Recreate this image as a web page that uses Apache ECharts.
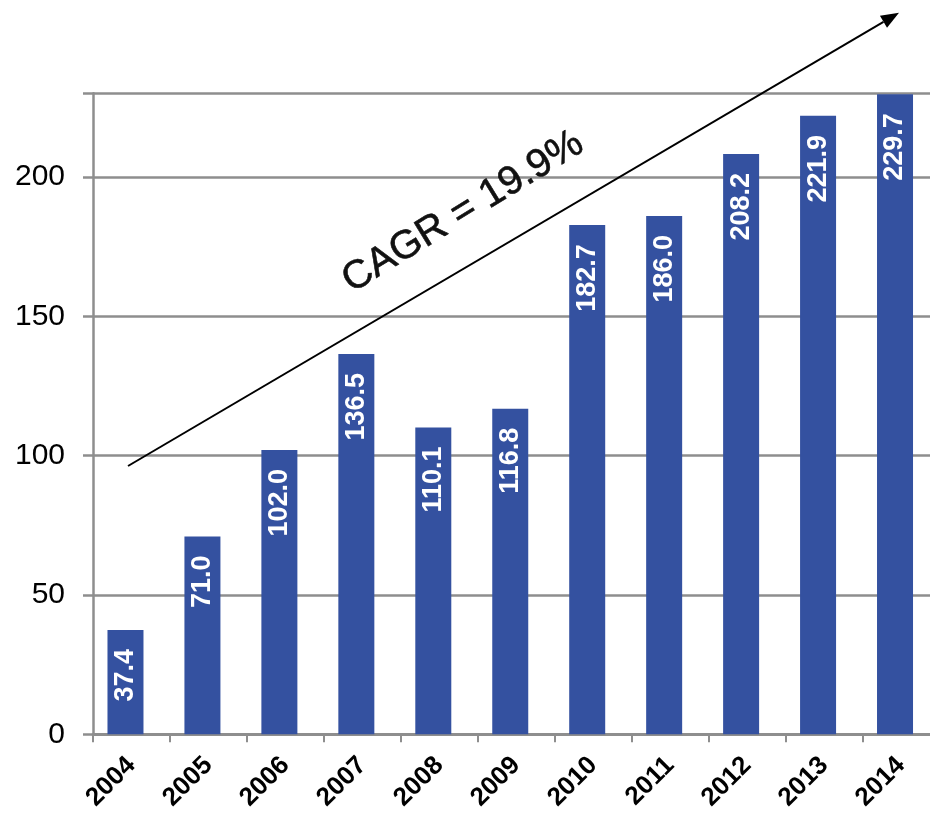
<!DOCTYPE html>
<html>
<head>
<meta charset="utf-8">
<title>Annual values 2004–2014</title>
<script src="https://cdn.jsdelivr.net/npm/echarts@6/dist/echarts.min.js"></script>
<style>
  html, body { margin: 0; padding: 0; background: #ffffff; overflow: hidden; }
  /* the plot runs slightly past the right edge of the visible page */
  #chart { width: 940px; height: 815px; }
</style>
</head>
<body>
<div id="chart"></div>
<script>
// Yearly values shown on the bars
const years = ['2004', '2005', '2006', '2007', '2008', '2009', '2010', '2011', '2012', '2013', '2014'];
const values = [37.4, 71.0, 102.0, 136.5, 110.1, 116.8, 182.7, 186.0, 208.2, 221.9, 229.7];
const yTicks = [0, 50, 100, 150, 200];
const growthText = 'CAGR = 19.9%';

const FONT = '"Liberation Sans", Arial, Helvetica, sans-serif';
const BAR = '#3451a0';
const GRID = '#8e8e8e';

const chart = echarts.init(document.getElementById('chart'), null, { renderer: 'canvas' });

// Trend arrow (annotation drawn over the plot)
const arrowStart = [128, 466];
const arrowTip = [899, 12.7];
const dx = arrowTip[0] - arrowStart[0], dy = arrowTip[1] - arrowStart[1];
const len = Math.sqrt(dx * dx + dy * dy);
const ux = dx / len, uy = dy / len;
const headLen = 18, headHalf = 7;
const base = [arrowTip[0] - ux * headLen, arrowTip[1] - uy * headLen];
const px = -uy, py = ux;

const option = {
  backgroundColor: '#ffffff',
  animation: false,
  grid: { left: 93, top: 93.3, bottom: 80.7, width: 846.5, containLabel: false },
  xAxis: {
    type: 'category',
    data: years,
    boundaryGap: true,
    axisLine: { show: true, lineStyle: { color: GRID, width: 3 } },
    axisTick: { show: true, inside: false, length: 8, interval: 0, lineStyle: { color: GRID, width: 2 } },
    axisLabel: {
      interval: 0, rotate: 45, margin: 27,
      color: '#000', fontFamily: FONT, fontSize: 26, fontWeight: 'bold'
    },
    splitLine: { show: false }
  },
  yAxis: {
    type: 'value',
    min: 0, max: 230, interval: 50,
    axisLine: { show: true, lineStyle: { color: GRID, width: 2.5 } },
    axisTick: { show: true, inside: false, length: 10, lineStyle: { color: GRID, width: 2.5 } },
    axisLabel: {
      margin: 28, color: '#000', fontFamily: FONT, fontSize: 30,
      formatter: v => (yTicks.indexOf(v) >= 0 ? String(v) : '')
    },
    splitLine: { show: true, lineStyle: { color: GRID, width: 2.5 } }
  },
  series: [
    {
      type: 'bar',
      data: values,
      barWidth: 36,
      barGap: 0,
      itemStyle: { color: BAR },
      label: {
        show: true,
        position: 'insideTop',
        rotate: 90,
        align: 'right',
        verticalAlign: 'middle',
        distance: 19,
        color: '#ffffff',
        fontFamily: FONT,
        fontSize: 27,
        fontWeight: 'bold',
        formatter: p => p.value.toFixed(1)
      }
    },
    {
      // empty spacer series: nudges the value bars slightly left of the slot centres
      type: 'bar',
      data: years.map(() => null),
      barWidth: 12,
      silent: true,
      itemStyle: { color: 'rgba(0,0,0,0)' }
    }
  ],
  graphic: [
    {
      type: 'line',
      shape: { x1: arrowStart[0], y1: arrowStart[1], x2: base[0], y2: base[1] },
      style: { stroke: '#000', lineWidth: 2 },
      z: 100
    },
    {
      type: 'polygon',
      shape: {
        points: [
          arrowTip,
          [base[0] + px * headHalf, base[1] + py * headHalf],
          [base[0] - px * headHalf, base[1] - py * headHalf]
        ]
      },
      style: { fill: '#000' },
      z: 100
    },
    {
      type: 'text',
      x: 463, y: 212,
      rotation: 31.5 * Math.PI / 180,
      style: {
        text: growthText,
        fill: '#111',
        font: '40px ' + FONT,
        textAlign: 'center',
        textVerticalAlign: 'middle',
        stroke: '#111',
        lineWidth: 0.6
      },
      z: 100
    }
  ]
};

chart.setOption(option);
</script>
</body>
</html>
